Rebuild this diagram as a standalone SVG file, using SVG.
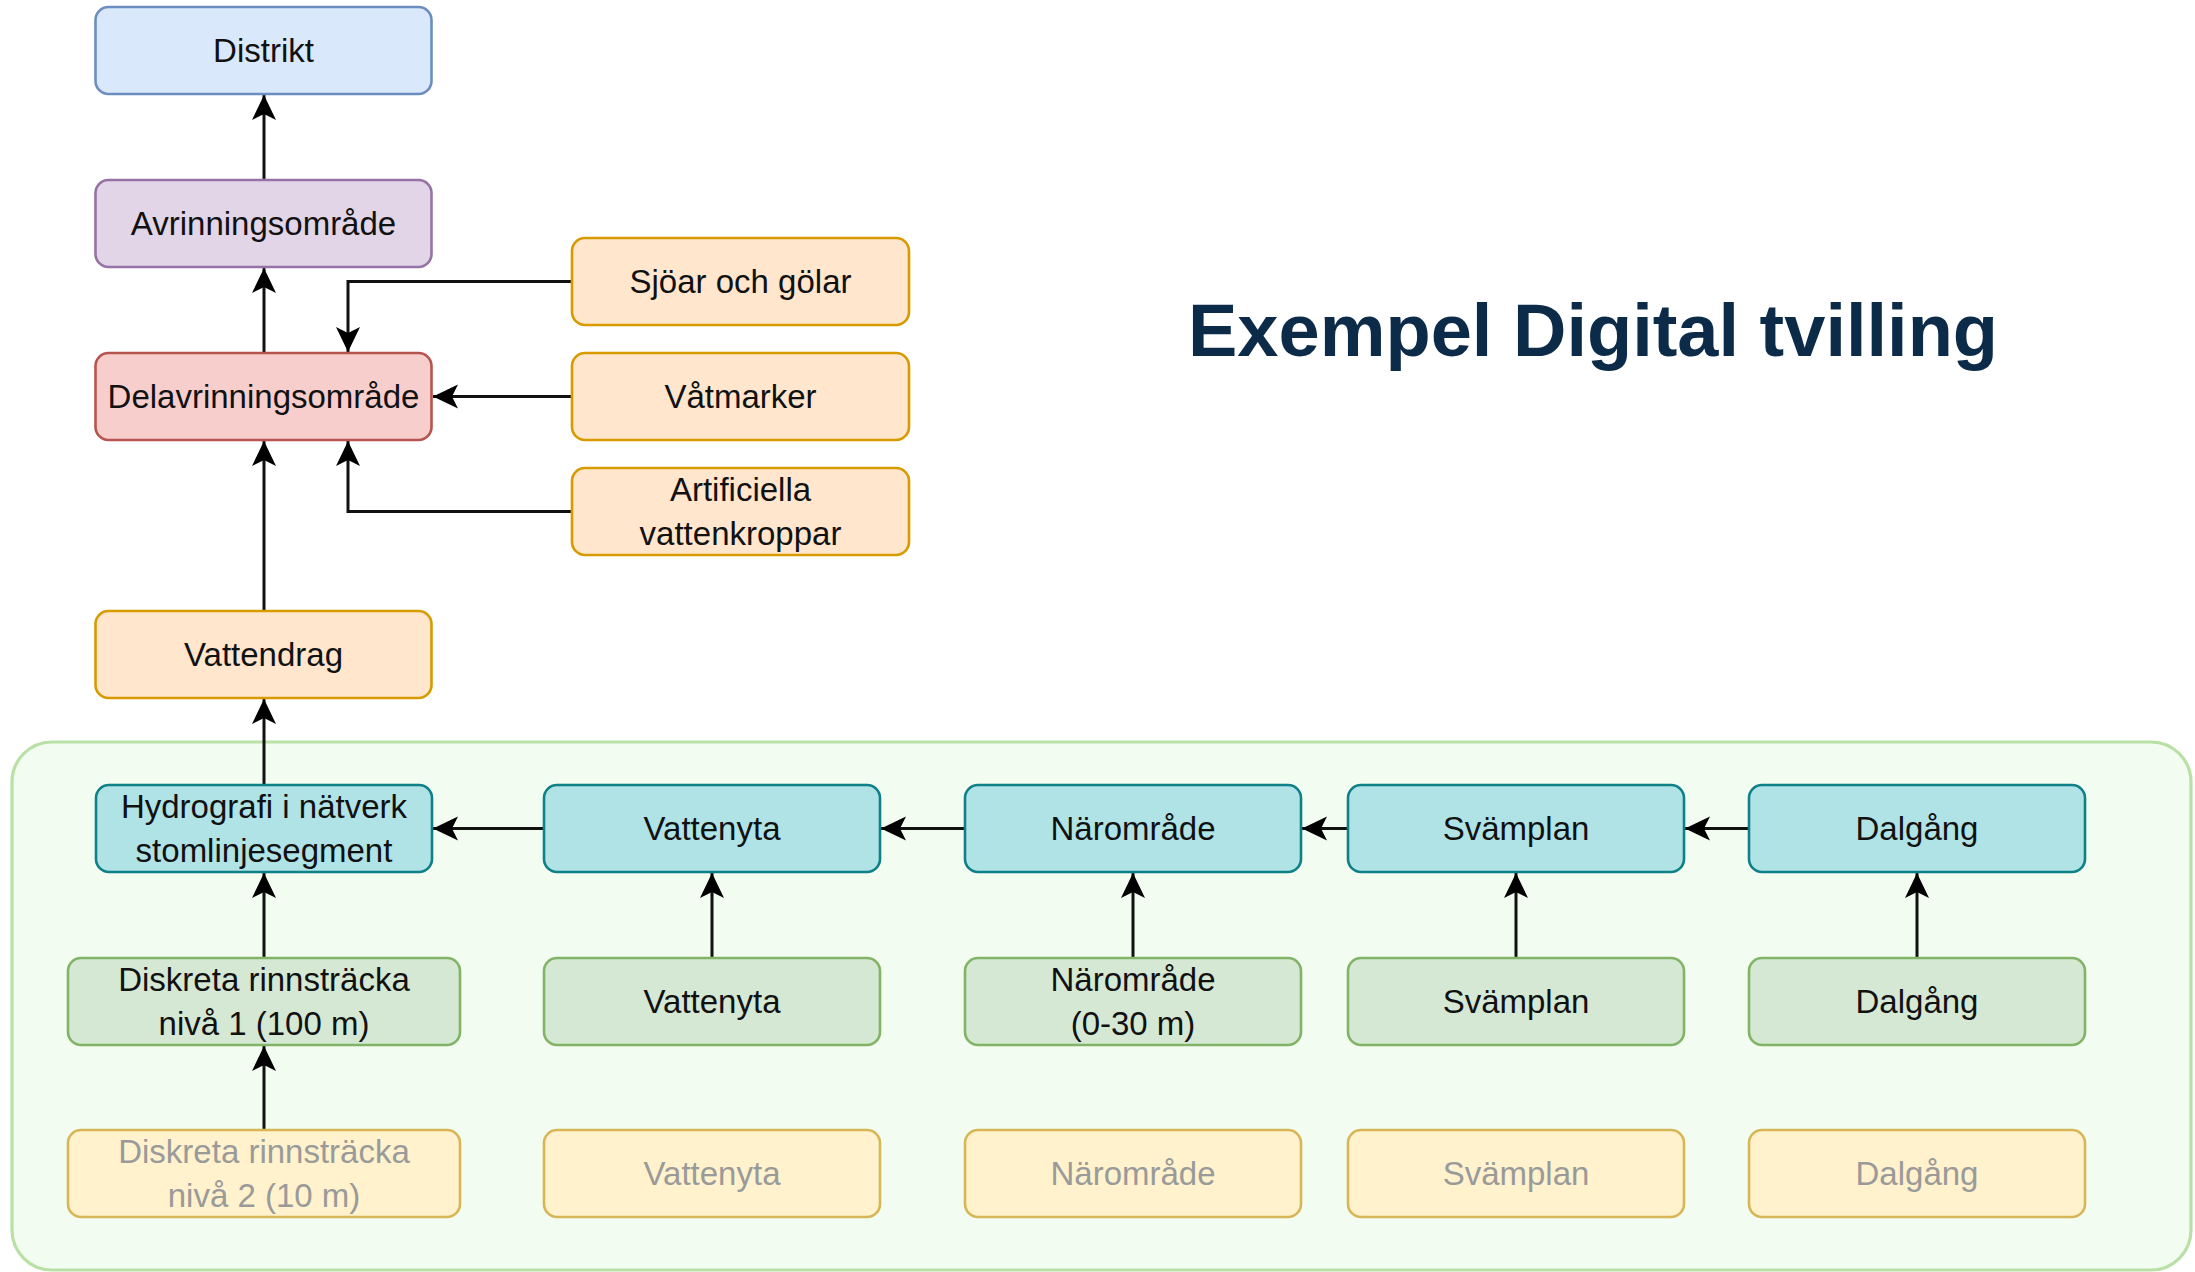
<svg xmlns="http://www.w3.org/2000/svg" width="2195" height="1272" viewBox="0 0 2195 1272">
<style>
.n{stroke-width:2.6}
.t{font-family:"Liberation Sans",Arial,sans-serif;font-size:33px;fill:#111;text-anchor:middle}
.g{fill:#9a9a9a}
.blue{fill:#dae8fc;stroke:#6c8ebf}
.purple{fill:#e1d5e7;stroke:#9673a6}
.red{fill:#f8cecc;stroke:#b85450}
.orange{fill:#ffe6cc;stroke:#d79b00}
.teal{fill:#b0e3e6;stroke:#0e8088}
.green{fill:#d5e8d4;stroke:#82b366}
.yellow{fill:#fff2cc;stroke:#d6b656}
.c{fill:none;stroke:#111;stroke-width:3;marker-end:url(#arr)}
.title{font-family:"Liberation Sans",Arial,sans-serif;font-size:74px;font-weight:bold;fill:#0c2b48}
</style>
<defs>
<marker id="arr" markerUnits="userSpaceOnUse" markerWidth="30" markerHeight="30" viewBox="-27 -14 30 28" refX="0" refY="0" orient="auto">
<path d="M0,0 L-25,-12 L-19,0 L-25,12 Z" fill="#000"/>
</marker>
</defs>
<rect width="2195" height="1272" fill="#fff"/>
<g id="container">
<rect x="12" y="742" width="2179" height="528" rx="40" fill="#f3fcf0" stroke="#b9e0a5" stroke-width="3.2"/>
</g>
<text id="title" class="title" x="1188" y="356">Exempel Digital tvilling</text>
<g id="connectors">
<path class="c" d="M264,180 V95"/>
<path class="c" d="M264,353 V268"/>
<path class="c" d="M264,611 V441"/>
<path class="c" d="M572,281.5 H348 V352"/>
<path class="c" d="M572,396.5 H433"/>
<path class="c" d="M572,511.5 H348 V441"/>
<path class="c" d="M264,785 V699"/>
<path class="c" d="M264,958 V873"/>
<path class="c" d="M264,1130 V1046"/>
<path class="c" d="M712,958 V873"/>
<path class="c" d="M1133,958 V873"/>
<path class="c" d="M1516,958 V873"/>
<path class="c" d="M1917,958 V873"/>
<path class="c" d="M544,828.5 H433"/>
<path class="c" d="M965,828.5 H881"/>
<path class="c" d="M1348,828.5 H1302"/>
<path class="c" d="M1749,828.5 H1685"/>
</g>
<g id="distrikt"><rect class="n blue" x="95.5" y="7" width="336" height="87" rx="13"/><text class="t" x="263.5" y="62">Distrikt</text></g>
<g id="avrinningsomrade"><rect class="n purple" x="95.5" y="180" width="336" height="87" rx="13"/><text class="t" x="263.5" y="235">Avrinningsområde</text></g>
<g id="delavrinningsomrade"><rect class="n red" x="95.5" y="353" width="336" height="87" rx="13"/><text class="t" x="263.5" y="408">Delavrinningsområde</text></g>
<g id="vattendrag"><rect class="n orange" x="95.5" y="611" width="336" height="87" rx="13"/><text class="t" x="263.5" y="666">Vattendrag</text></g>
<g id="sjoar"><rect class="n orange" x="572" y="238" width="337" height="87" rx="13"/><text class="t" x="740.5" y="293">Sjöar och gölar</text></g>
<g id="vatmarker"><rect class="n orange" x="572" y="353" width="337" height="87" rx="13"/><text class="t" x="740.5" y="408">Våtmarker</text></g>
<g id="artificiella"><rect class="n orange" x="572" y="468" width="337" height="87" rx="13"/><text class="t" x="740.5" y="501">Artificiella</text><text class="t" x="740.5" y="545">vattenkroppar</text></g>
<g id="hydrografi"><rect class="n teal" x="96" y="785" width="336" height="87" rx="13"/><text class="t" x="264" y="818">Hydrografi i nätverk</text><text class="t" x="264" y="862">stomlinjesegment</text></g>
<g id="vattenyta1"><rect class="n teal" x="544" y="785" width="336" height="87" rx="13"/><text class="t" x="712" y="840">Vattenyta</text></g>
<g id="naromrade1"><rect class="n teal" x="965" y="785" width="336" height="87" rx="13"/><text class="t" x="1133" y="840">Närområde</text></g>
<g id="svamplan1"><rect class="n teal" x="1348" y="785" width="336" height="87" rx="13"/><text class="t" x="1516" y="840">Svämplan</text></g>
<g id="dalgang1"><rect class="n teal" x="1749" y="785" width="336" height="87" rx="13"/><text class="t" x="1917" y="840">Dalgång</text></g>
<g id="diskreta1"><rect class="n green" x="68" y="958" width="392" height="87" rx="13"/><text class="t" x="264" y="991">Diskreta rinnsträcka</text><text class="t" x="264" y="1035">nivå 1 (100 m)</text></g>
<g id="vattenyta2"><rect class="n green" x="544" y="958" width="336" height="87" rx="13"/><text class="t" x="712" y="1013">Vattenyta</text></g>
<g id="naromrade2"><rect class="n green" x="965" y="958" width="336" height="87" rx="13"/><text class="t" x="1133" y="991">Närområde</text><text class="t" x="1133" y="1035">(0-30 m)</text></g>
<g id="svamplan2"><rect class="n green" x="1348" y="958" width="336" height="87" rx="13"/><text class="t" x="1516" y="1013">Svämplan</text></g>
<g id="dalgang2"><rect class="n green" x="1749" y="958" width="336" height="87" rx="13"/><text class="t" x="1917" y="1013">Dalgång</text></g>
<g id="diskreta2"><rect class="n yellow" x="68" y="1130" width="392" height="87" rx="13"/><text class="t g" x="264" y="1163">Diskreta rinnsträcka</text><text class="t g" x="264" y="1207">nivå 2 (10 m)</text></g>
<g id="vattenyta3"><rect class="n yellow" x="544" y="1130" width="336" height="87" rx="13"/><text class="t g" x="712" y="1185">Vattenyta</text></g>
<g id="naromrade3"><rect class="n yellow" x="965" y="1130" width="336" height="87" rx="13"/><text class="t g" x="1133" y="1185">Närområde</text></g>
<g id="svamplan3"><rect class="n yellow" x="1348" y="1130" width="336" height="87" rx="13"/><text class="t g" x="1516" y="1185">Svämplan</text></g>
<g id="dalgang3"><rect class="n yellow" x="1749" y="1130" width="336" height="87" rx="13"/><text class="t g" x="1917" y="1185">Dalgång</text></g>
</svg>
